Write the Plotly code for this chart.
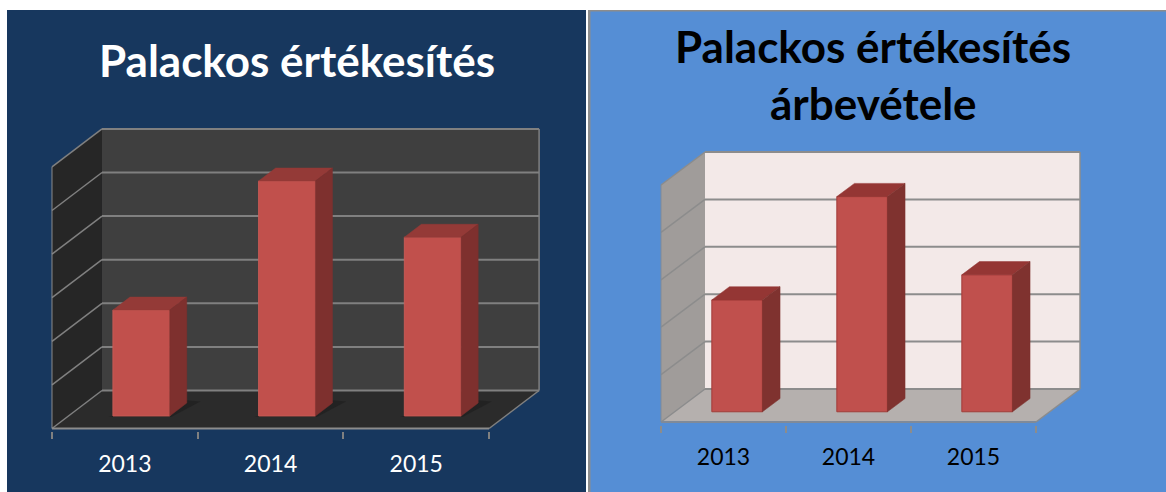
import plotly.graph_objects as go

categories = ["2013", "2014", "2015"]
left_values = [2.43, 5.39, 4.10]
right_values = [2.36, 4.54, 2.89]
left_title = ["Palackos értékesítés"]
right_title = ["Palackos értékesítés", "árbevétele"]

W, H = 1166, 492
FONT = "Lato, Carlito, Open Sans, sans-serif"

LEFT = dict(
    x0=52, cat=145.7, y0=428.5, unit=43.6, n=6, dx=50, dy=38,
    bw=0.39, d0=0.33, d1=0.67,
    wall="#3f3f3f", side="#262626", floor="#2b2b2b", grid="#808080", base="#8c8c8c",
    front="#c1504c", barline="#c65a55", top="#943a37", bside="#7e302e",
    shadow="#1c1c1c", text="#ffffff",
)
RIGHT = dict(
    x0=661, cat=125.0, y0=422, unit=47.4, n=5, dx=44, dy=33,
    bw=0.405, d0=0.31, d1=0.71,
    wall="#f3e9e8", side="#a09c9a", floor="#b5b0ae", grid="#8c8c8c", base="#7f8a99",
    front="#c0504d", barline="#a23c39", top="#943634", bside="#7f322f",
    shadow=None, text="#000000",
)


def path(points):
    return "M " + " L ".join(f"{x},{y}" for x, y in points) + " Z"


fig = go.Figure()
shapes = [
    dict(type="rect", xref="paper", yref="paper", x0=7 / W, x1=586 / W, y0=0, y1=1 - 10 / H,
         fillcolor="#17375e", line_width=0, layer="below"),
    dict(type="rect", xref="paper", yref="paper", x0=588 / W, x1=1, y0=0, y1=1 - 10 / H,
         fillcolor="#8c8c8c", line_width=0, layer="below"),
    dict(type="rect", xref="paper", yref="paper", x0=590.5 / W, x1=1, y0=0, y1=1 - 11.5 / H,
         fillcolor="#558ed5", line_width=0, layer="below"),
]


def panel(spec, values, suffix):
    xa, ya = "x" + suffix, "y" + suffix
    ncat = len(categories)
    depth_x = spec["dx"] / spec["cat"]
    depth_y = spec["dy"] / spec["unit"]
    top = spec["n"] + depth_y

    def pt(x, y, d):
        return (x + d * depth_x, y + d * depth_y)

    def add_shape(points, fill, opacity=1):
        shapes.append(dict(type="path", xref=xa, yref=ya, path=path(points), fillcolor=fill,
                           line_width=0, layer="below", opacity=opacity))

    def add_line(p, q, color, width=2):
        shapes.append(dict(type="line", xref=xa, yref=ya, x0=p[0], y0=p[1], x1=q[0], y1=q[1],
                           line=dict(color=color, width=width), layer="below"))

    add_shape([pt(0, 0, 1), pt(ncat, 0, 1), pt(ncat, spec["n"], 1), pt(0, spec["n"], 1)], spec["wall"])
    add_shape([pt(0, 0, 0), pt(0, 0, 1), pt(0, spec["n"], 1), pt(0, spec["n"], 0)], spec["side"])
    add_shape([pt(0, 0, 0), pt(ncat, 0, 0), pt(ncat, 0, 1), pt(0, 0, 1)], spec["floor"])
    for g in range(spec["n"] + 1):
        add_line(pt(0, g, 0), pt(0, g, 1), spec["grid"], 1.5)
        add_line(pt(0, g, 1), pt(ncat, g, 1), spec["grid"], 2)
    add_line(pt(ncat, 0, 1), pt(ncat, spec["n"], 1), spec["grid"], 1.5)
    add_line(pt(ncat, 0, 1), pt(ncat, 0, 0), spec["grid"], 1.5)
    add_line(pt(0, 0, 0), pt(ncat, 0, 0), spec["base"], 2)
    add_line(pt(0, 0, 0), pt(0, spec["n"], 0), spec["base"], 1)

    half = spec["bw"] / 2
    d0, d1 = spec["d0"], spec["d1"]
    centers = [i + 0.5 for i in range(ncat)]

    if spec["shadow"]:
        for c in centers:
            add_shape([pt(c - half - 0.02, 0, d0 - 0.03), pt(c + half + 0.02, 0, d0 - 0.03),
                       pt(c + half + 0.08, 0, d1 + 0.04), pt(c + half - 0.05, 0, d1 + 0.08)],
                      spec["shadow"], 0.55)

    fig.add_trace(go.Bar(
        x=[c + d0 * depth_x for c in centers], y=values, base=[d0 * depth_y] * ncat,
        width=spec["bw"], xaxis=xa, yaxis=ya, showlegend=False, hoverinfo="skip",
        marker=dict(color=spec["front"], line=dict(color=spec["barline"], width=1)),
    ))
    for c, v in zip(centers, values):
        tp = [pt(c - half, v, d0), pt(c + half, v, d0), pt(c + half, v, d1), pt(c - half, v, d1)]
        sd = [pt(c + half, 0, d0), pt(c + half, 0, d1), pt(c + half, v, d1), pt(c + half, v, d0)]
        for poly, colour in ((tp, spec["top"]), (sd, spec["bside"])):
            fig.add_trace(go.Scatter(
                x=[p[0] for p in poly] + [poly[0][0]], y=[p[1] for p in poly] + [poly[0][1]],
                mode="lines", fill="toself", fillcolor=colour, line=dict(color=colour, width=0.5),
                xaxis=xa, yaxis=ya, showlegend=False, hoverinfo="skip",
            ))

    xpad, ypad = 0.02, 0.06
    xmax = ncat + depth_x + xpad
    ymax = top + ypad
    xl = spec["x0"] - xpad * spec["cat"]
    xr = spec["x0"] + xmax * spec["cat"]
    yb = spec["y0"] + ypad * spec["unit"]
    yt = spec["y0"] - ymax * spec["unit"]
    xkey = "xaxis" + suffix
    ykey = "yaxis" + suffix
    fig.update_layout({
        xkey: dict(
            domain=[xl / W, xr / W], range=[-xpad, xmax], anchor=ya, showgrid=False, zeroline=False,
            showline=False, tickmode="array", tickvals=centers, ticktext=categories,
            ticks="outside", ticklen=12, tickcolor="rgba(0,0,0,0)",
            tickfont=dict(family=FONT, size=23, color=spec["text"]),
            minor=dict(tickmode="array", tickvals=list(range(ncat + 1)), ticks="outside",
                       ticklen=7, tickwidth=2, tickcolor=spec["grid"], showgrid=False),
        ),
        ykey: dict(
            domain=[1 - yb / H, 1 - yt / H], range=[-ypad, ymax], anchor=xa, showgrid=False,
            zeroline=False, showline=False, showticklabels=False, ticks="",
        ),
    })


panel(LEFT, left_values, "")
panel(RIGHT, right_values, "2")

annotations = []
for text, x, y, colour in [
    (left_title[0], 297, 60, "#ffffff"),
    (right_title[0], 873, 46, "#000000"),
    (right_title[1], 873, 103, "#000000"),
]:
    annotations.append(dict(
        text=f"<b>{text}</b>", x=x / W, y=1 - y / H, xref="paper", yref="paper", showarrow=False,
        xanchor="center", yanchor="middle", font=dict(family=FONT, size=44, color=colour),
    ))

fig.update_layout(
    width=W, height=H, margin=dict(l=0, r=0, t=0, b=0), paper_bgcolor="#ffffff",
    plot_bgcolor="rgba(0,0,0,0)", shapes=shapes, annotations=annotations, showlegend=False,
    barmode="overlay",
)
fig.write_html("out.html", config={"displayModeBar": False},
               post_script="document.body.style.margin='0';")
